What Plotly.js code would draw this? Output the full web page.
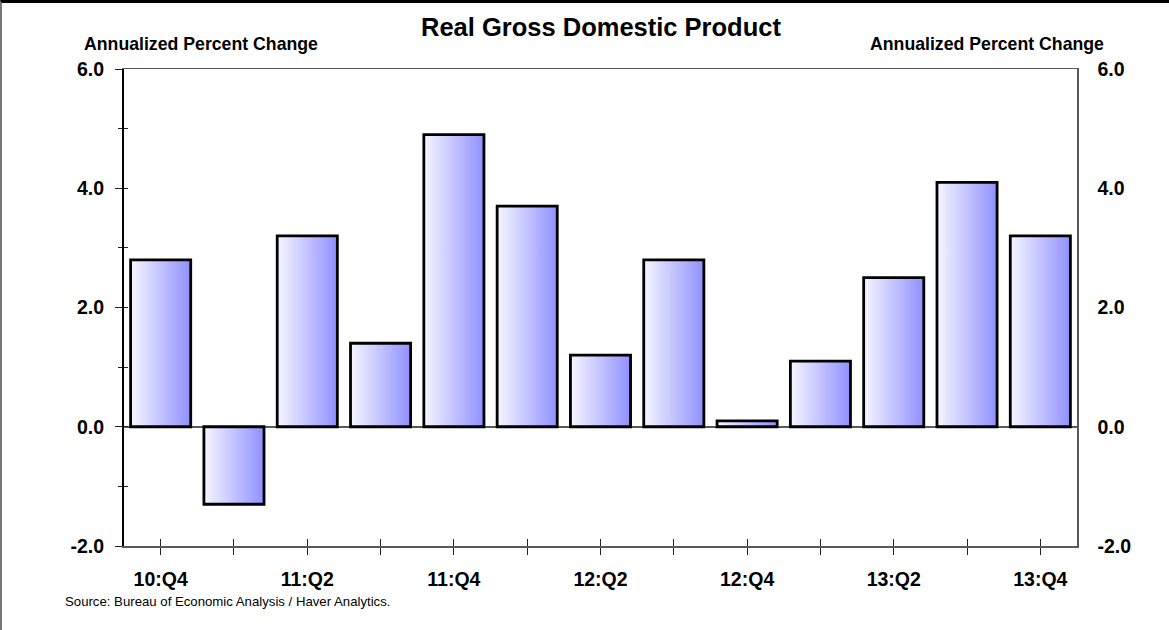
<!DOCTYPE html>
<html>
<head>
<meta charset="utf-8">
<script src="https://cdn.plot.ly/plotly-3.0.1.min.js"></script>
<style>
  html, body { margin: 0; padding: 0; background: #fff; }
  #chart {
    width: 1167px; height: 627px;
    border-top: 3px solid #000; border-left: 2px solid #777;
  }
</style>
</head>
<body>
<div id="chart"></div>
<script>
// Real GDP, annualized quarterly percent change
const quarters = ['10:Q4', '11:Q1', '11:Q2', '11:Q3', '11:Q4', '12:Q1', '12:Q2',
                  '12:Q3', '12:Q4', '13:Q1', '13:Q2', '13:Q3', '13:Q4'];
const gdpChange = [2.8, -1.3, 3.2, 1.4, 4.9, 3.7, 1.2, 2.8, 0.1, 1.1, 2.5, 4.1, 3.2];
// only every other quarter is labelled on the axis
const quarterLabels = quarters.map((q, i) => (i % 2 === 0 ? q : ''));
const yTickValues = [-2, 0, 2, 4, 6];
// plain hyphen for negatives, one decimal
const yTickText = yTickValues.map(v => v.toFixed(1));

const FONT = 'Liberation Sans, Arial, sans-serif';
const W = 1167, H = 627;
const M = { l: 122, r: 92, t: 66, b: 84 };
const plotW = W - M.l - M.r, plotH = H - M.t - M.b;
// page pixel -> paper fraction (the div sits 2px right / 3px down from page origin)
const px = x => (x - 2 - M.l) / plotW;
const py = y => 1 - (y - 3 - M.t) / plotH;

const idx = quarters.map((_, i) => i);

const trace = {
  type: 'bar',
  x: idx,
  y: gdpChange,
  width: 0.82,
  marker: { color: '#b8b8ff', line: { color: '#000', width: 2.8 } },
  hoverinfo: 'skip'
};

const axisGray = '#5a5a5a';
const tickFont = { family: FONT, size: 19.5, weight: 'bold', color: '#000' };
const layout = {
  width: W, height: H,
  margin: M,
  paper_bgcolor: '#fff', plot_bgcolor: '#fff',
  showlegend: false,
  font: { family: FONT, color: '#000' },
  xaxis: {
    range: [-0.5, 12.5], fixedrange: true,
    tickmode: 'array', tickvals: idx, ticktext: quarterLabels,
    ticks: 'outside', ticklen: 7, tickwidth: 1, tickcolor: '#222',
    tickfont: tickFont,
    ticklabelstandoff: 8,
    showline: true, linecolor: axisGray, linewidth: 1.5, mirror: true,
    showgrid: false, zeroline: false
  },
  xaxis2: {
    overlaying: 'x', anchor: 'y', range: [-0.5, 12.5], fixedrange: true,
    tickmode: 'array', tickvals: idx, showticklabels: false,
    ticks: 'inside', ticklen: 7, tickwidth: 1, tickcolor: '#222',
    showline: false, showgrid: false, zeroline: false
  },
  yaxis: {
    range: [-2, 6], fixedrange: true,
    tickmode: 'array', tickvals: yTickValues, ticktext: yTickText,
    ticks: 'outside', ticklen: 7, tickwidth: 1, tickcolor: '#222',
    minor: { dtick: 1, ticks: 'outside', ticklen: 4, tickwidth: 1, tickcolor: '#222' },
    tickfont: tickFont,
    ticklabelstandoff: 7,
    showline: true, linecolor: '#000', linewidth: 2,
    showgrid: false,
    zeroline: true, zerolinecolor: axisGray, zerolinewidth: 1.5
  },
  yaxis3: {
    overlaying: 'y', anchor: 'x', range: [-2, 6], fixedrange: true,
    dtick: 1, ticks: 'inside', ticklen: 4, tickwidth: 1, tickcolor: '#222',
    showticklabels: false, showline: false, showgrid: false, zeroline: false
  },
  yaxis2: {
    overlaying: 'y', side: 'right', anchor: 'x', range: [-2, 6], fixedrange: true,
    tickmode: 'array', tickvals: yTickValues, ticktext: yTickText,
    ticks: '', tickfont: tickFont,
    ticklabelstandoff: 15,
    showline: true, linecolor: axisGray, linewidth: 1.5,
    showgrid: false, zeroline: false
  },
  annotations: [
    { text: '<b>Real Gross Domestic Product</b>', xref: 'paper', yref: 'paper',
      x: px(601), y: py(27), xanchor: 'center', yanchor: 'middle', showarrow: false,
      font: { family: FONT, size: 25.5, color: '#000' } },
    { text: '<b>Annualized Percent Change</b>', xref: 'paper', yref: 'paper',
      x: px(82), y: py(44), xanchor: 'left', yanchor: 'middle', showarrow: false,
      font: { family: FONT, size: 17.7, color: '#000' } },
    { text: '<b>Annualized Percent Change</b>', xref: 'paper', yref: 'paper',
      x: px(1106), y: py(44), xanchor: 'right', yanchor: 'middle', showarrow: false,
      font: { family: FONT, size: 17.7, color: '#000' } },
    { text: 'Source: Bureau of Economic Analysis / Haver Analytics.', xref: 'paper', yref: 'paper',
      x: px(63), y: py(601), xanchor: 'left', yanchor: 'middle', showarrow: false,
      font: { family: FONT, size: 13.2, color: '#000' } }
  ]
};

// empty traces so the overlay axes get drawn
const tickX = { type: 'scatter', x: [], y: [], xaxis: 'x2', yaxis: 'y', hoverinfo: 'skip' };
const tickY = { type: 'scatter', x: [], y: [], xaxis: 'x', yaxis: 'y3', hoverinfo: 'skip' };
const rightY = { type: 'scatter', x: [], y: [], xaxis: 'x', yaxis: 'y2', hoverinfo: 'skip' };

Plotly.newPlot('chart', [trace, tickX, tickY, rightY], layout,
  { staticPlot: true, displayModeBar: false }).then(gd => {
  // horizontal white-to-blue gradient fill for the bars
  const svgNS = 'http://www.w3.org/2000/svg';
  const svg = gd.querySelector('svg.main-svg');
  let defs = svg.querySelector('defs');
  if (!defs) { defs = document.createElementNS(svgNS, 'defs'); svg.insertBefore(defs, svg.firstChild); }
  const grad = document.createElementNS(svgNS, 'linearGradient');
  grad.setAttribute('id', 'barGradient');
  grad.setAttribute('x1', '0'); grad.setAttribute('y1', '0');
  grad.setAttribute('x2', '1'); grad.setAttribute('y2', '0');
  [['0', '#f6f6ff'], ['1', '#9090ff']].forEach(([off, col]) => {
    const s = document.createElementNS(svgNS, 'stop');
    s.setAttribute('offset', off); s.setAttribute('stop-color', col);
    grad.appendChild(s);
  });
  defs.appendChild(grad);
  gd.querySelectorAll('.trace.bars .point path').forEach(p => {
    p.style.fill = 'url(#barGradient)';
  });
});
</script>
</body>
</html>
